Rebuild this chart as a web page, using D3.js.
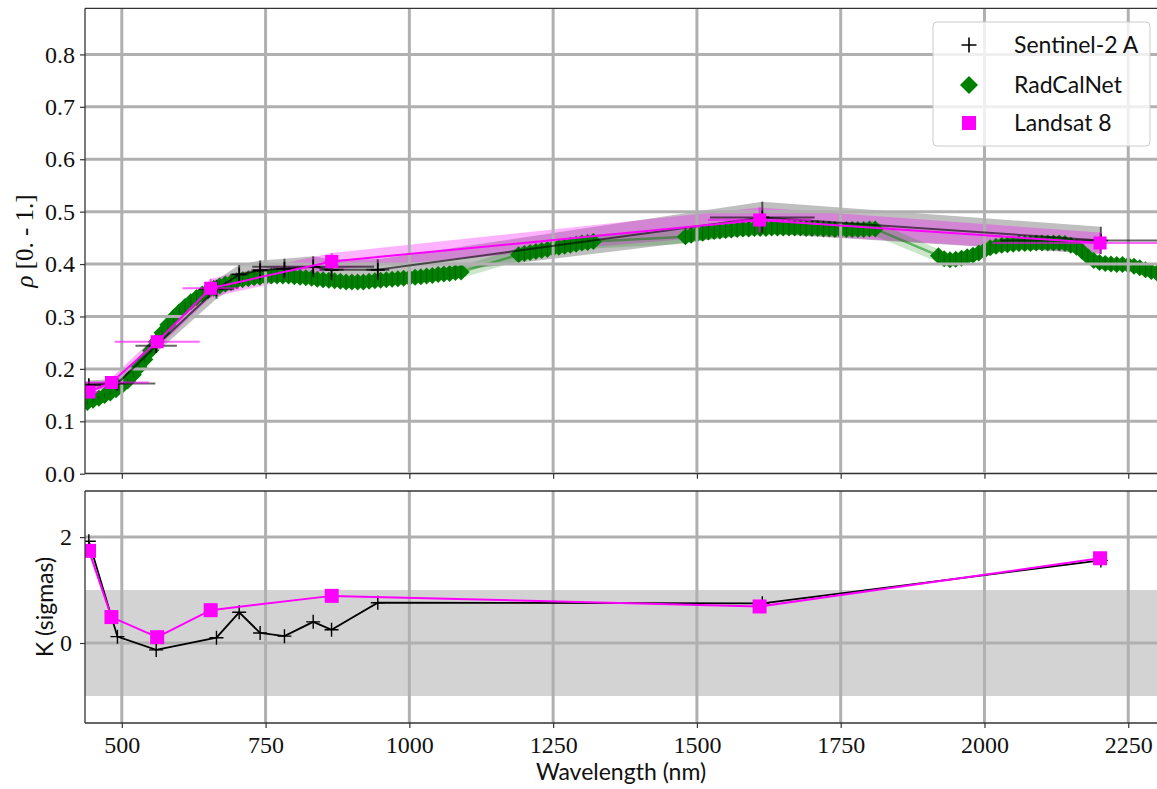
<!DOCTYPE html>
<html>
<head>
<meta charset="utf-8">
<script src="https://cdn.jsdelivr.net/npm/d3@7"></script>
<style>
  body { margin: 0; background: #fff; }
  text { fill: #111; }
</style>
</head>
<body>
<svg id="chart" width="1157" height="789"></svg>
<script>
// --- data ---

const xTicks = [500, 750, 1000, 1250, 1500, 1750, 2000, 2250];
const rhoTicks = [0, 0.1, 0.2, 0.3, 0.4, 0.5, 0.6, 0.7, 0.8];
const kTicks = [0, 2];

// Sentinel-2 A bands
const s2Wl = [442.7, 492.4, 559.8, 664.6, 704.1, 740.5, 782.8, 832.8, 864.7, 945.1, 1613.7, 2202.4];
const s2Rho = [0.169, 0.172, 0.244, 0.352, 0.380, 0.388, 0.391, 0.395, 0.389, 0.389, 0.489, 0.445];
const s2RhoErr = [0.009, 0.009, 0.013, 0.018, 0.018, 0.019, 0.019, 0.020, 0.020, 0.020, 0.030, 0.026];
const s2HalfWidth = [21, 66, 36, 31, 15, 15, 20, 106, 21, 20, 91, 175];
const s2K = [1.92, 0.12, -0.13, 0.10, 0.58, 0.19, 0.13, 0.40, 0.25, 0.76, 0.75, 1.56];

// Landsat 8 bands
const l8Wl = [443, 482, 561.5, 654.5, 865, 1609, 2201];
const l8Rho = [0.156, 0.174, 0.252, 0.354, 0.405, 0.484, 0.440];
const l8RhoErr = [0.008, 0.009, 0.013, 0.018, 0.016, 0.024, 0.020];
const l8HalfWidth = [16, 65, 74, 49, 14, 90, 187];
const l8K = [1.74, 0.49, 0.11, 0.62, 0.89, 0.69, 1.60];

// RadCalNet spectrum (10 nm sampling, water bands missing)
const rcnWl = [
  440, 450, 460, 470, 480, 490, 500, 510, 520, 530, 540, 550, 560, 570, 580, 590, 600, 610, 620, 630,
  640, 650, 660, 670, 680, 690, 700, 710, 720, 730, 740, 750, 760, 770, 780, 790, 800, 810, 820, 830,
  840, 850, 860, 870, 880, 890, 900, 910, 920, 930, 940, 950, 960, 970, 980, 990, 1000, 1010, 1020, 1030,
  1040, 1050, 1060, 1070, 1080, 1090,
  1190, 1200, 1210, 1220, 1230, 1240, 1250, 1260, 1270, 1280, 1290, 1300, 1310, 1320,
  1480, 1490, 1500, 1510, 1520, 1530, 1540, 1550, 1560, 1570, 1580, 1590, 1600, 1610, 1620, 1630,
  1640, 1650, 1660, 1670, 1680, 1690, 1700, 1710, 1720, 1730, 1740, 1750, 1760, 1770, 1780, 1790,
  1800, 1810,
  1920, 1930, 1940, 1950, 1960, 1970, 1980, 1990, 2000, 2010, 2020, 2030, 2040, 2050, 2060, 2070,
  2080, 2090, 2100, 2110, 2120, 2130, 2140, 2150, 2160, 2170, 2180, 2190, 2200, 2210, 2220, 2230,
  2240, 2250, 2260, 2270, 2280, 2290, 2300, 2310
];
const rcnRho = [
  0.136, 0.140, 0.144, 0.149, 0.154, 0.160, 0.168, 0.177, 0.189, 0.203, 0.218, 0.235, 0.252, 0.269, 0.284, 0.298, 0.309, 0.319, 0.328, 0.336,
  0.343, 0.349, 0.354, 0.358, 0.362, 0.365, 0.368, 0.370, 0.372, 0.374, 0.375, 0.376, 0.377, 0.377, 0.377, 0.377, 0.376, 0.375, 0.374, 0.373,
  0.371, 0.370, 0.369, 0.368, 0.367, 0.366, 0.366, 0.366, 0.366, 0.367, 0.368, 0.369, 0.370, 0.371, 0.372, 0.373, 0.374, 0.375, 0.376, 0.377,
  0.378, 0.380, 0.381, 0.382, 0.384, 0.385,
  0.418, 0.420, 0.422, 0.424, 0.426, 0.428, 0.430, 0.432, 0.434, 0.436, 0.438, 0.440, 0.441, 0.443,
  0.452, 0.455, 0.457, 0.459, 0.461, 0.462, 0.463, 0.464, 0.465, 0.466, 0.467, 0.467, 0.468, 0.468, 0.468, 0.469,
  0.469, 0.469, 0.469, 0.469, 0.469, 0.468, 0.468, 0.468, 0.467, 0.467, 0.466, 0.466, 0.466, 0.466, 0.466, 0.466,
  0.467, 0.467,
  0.416, 0.410, 0.408, 0.409, 0.411, 0.414, 0.417, 0.421, 0.426, 0.431, 0.434, 0.436, 0.437, 0.438, 0.439, 0.439,
  0.439, 0.440, 0.440, 0.440, 0.440, 0.440, 0.439, 0.436, 0.432, 0.424, 0.414, 0.407, 0.403, 0.401, 0.400, 0.399,
  0.399, 0.398, 0.396, 0.393, 0.389, 0.386, 0.383, 0.380
];
const rcnRelUnc = 0.03;

const legendLabels = ["Sentinel-2 A", "RadCalNet", "Landsat 8"];

// --- setup ---

const serif = "'Liberation Serif', 'DejaVu Serif', serif";
const sans = "Lato, 'Open Sans', sans-serif";
const gridColor = "#b0b0b0";
const spineColor = "#333";

const svg = d3.select("#chart");
const left = 85, right = 1157;
const x = d3.scaleLinear().domain([436, 2300]).range([left, right]);
const yTop = d3.scaleLinear().domain([0, 0.888]).range([473.7, 8.3]);
const yBot = d3.scaleLinear().domain([-1.51, 2.87]).range([723, 491]);

const s2 = s2Wl.map((w, i) => ({ w, r: s2Rho[i], e: s2RhoErr[i], hw: s2HalfWidth[i], k: s2K[i] }));
const l8 = l8Wl.map((w, i) => ({ w, r: l8Rho[i], e: l8RhoErr[i], hw: l8HalfWidth[i], k: l8K[i] }));
const rcn = rcnWl.map((w, i) => ({ w, r: rcnRho[i], e: rcnRho[i] * rcnRelUnc }));

const defs = svg.append("defs");
defs.append("clipPath").attr("id", "clipTop").append("rect")
  .attr("x", left).attr("y", yTop.range()[1]).attr("width", right - left).attr("height", yTop.range()[0] - yTop.range()[1]);
defs.append("clipPath").attr("id", "clipBot").append("rect")
  .attr("x", left).attr("y", yBot.range()[1]).attr("width", right - left).attr("height", yBot.range()[0] - yBot.range()[1]);

const diamond = s => `M0,${-s}L${s},0L0,${s}L${-s},0Z`;
const plus = s => `M${-s},0H${s}M0,${-s}V${s}`;
const square = s => `M${-s},${-s}H${s}V${s}H${-s}Z`;

// --- top panel ---

const topG = svg.append("g").attr("clip-path", "url(#clipTop)");
const band = d3.area().x(d => x(d.w)).y0(d => yTop(d.r - d.e)).y1(d => yTop(d.r + d.e));

topG.append("path").datum(s2).attr("d", band).attr("fill", "#808080").attr("fill-opacity", 0.5);
topG.append("path").datum(l8).attr("d", band).attr("fill", "magenta").attr("fill-opacity", 0.3);
topG.append("path").datum(rcn).attr("d", band).attr("fill", "green").attr("fill-opacity", 0.2);
topG.append("path").datum(rcn)
  .attr("d", d3.line().x(d => x(d.w)).y(d => yTop(d.r)))
  .attr("fill", "none").attr("stroke", "green").attr("stroke-opacity", 0.5).attr("stroke-width", 2.5);

topG.append("g").selectAll("path").data(rcn).enter().append("path")
  .attr("transform", d => `translate(${x(d.w)},${yTop(d.r)})`)
  .attr("d", diamond(8.5)).attr("fill", "green");
topG.append("g").selectAll("line").data(rcn).enter().append("line")
  .attr("x1", d => x(d.w)).attr("x2", d => x(d.w))
  .attr("y1", d => yTop(d.r - d.e)).attr("y2", d => yTop(d.r + d.e))
  .attr("stroke", "#004400").attr("stroke-opacity", 0.55).attr("stroke-width", 1);

// grid (above the shaded bands, below the satellite lines)
const gridTop = topG.append("g");
gridTop.selectAll(".gx").data(xTicks).enter().append("line")
  .attr("x1", d => x(d)).attr("x2", d => x(d)).attr("y1", yTop.range()[0]).attr("y2", yTop.range()[1])
  .attr("stroke", gridColor).attr("stroke-width", 3);
gridTop.selectAll(".gy").data(rhoTicks).enter().append("line")
  .attr("y1", d => yTop(d)).attr("y2", d => yTop(d)).attr("x1", left).attr("x2", right)
  .attr("stroke", gridColor).attr("stroke-width", 3);

function drawSeries(g, data, colour, lineOpacity, errOpacity, marker, markerStroke) {
  g.append("path").datum(data)
    .attr("d", d3.line().x(d => x(d.w)).y(d => yTop(d.r)))
    .attr("fill", "none").attr("stroke", colour).attr("stroke-opacity", lineOpacity).attr("stroke-width", 2);
  const eb = g.append("g").attr("stroke", colour).attr("stroke-opacity", errOpacity).attr("stroke-width", 2);
  eb.selectAll(".h").data(data).enter().append("line")
    .attr("x1", d => x(d.w - d.hw)).attr("x2", d => x(d.w + d.hw))
    .attr("y1", d => yTop(d.r)).attr("y2", d => yTop(d.r));
  eb.selectAll(".v").data(data).enter().append("line")
    .attr("x1", d => x(d.w)).attr("x2", d => x(d.w))
    .attr("y1", d => yTop(d.r - d.e)).attr("y2", d => yTop(d.r + d.e));
  const m = g.selectAll(".m").data(data).enter().append("path")
    .attr("transform", d => `translate(${x(d.w)},${yTop(d.r)})`).attr("d", marker);
  if (markerStroke) m.attr("fill", "none").attr("stroke", colour).attr("stroke-width", 1.6);
  else m.attr("fill", colour);
}
drawSeries(topG.append("g"), s2, "#000", 0.6, 0.6, plus(7), true);
drawSeries(topG.append("g"), l8, "magenta", 1, 0.6, square(6.5), false);

// --- bottom panel ---

const botG = svg.append("g").attr("clip-path", "url(#clipBot)");
botG.append("rect").attr("x", left).attr("width", right - left)
  .attr("y", yBot(1)).attr("height", yBot(-1) - yBot(1)).attr("fill", "#d3d3d3");
botG.selectAll(".gx").data(xTicks).enter().append("line")
  .attr("x1", d => x(d)).attr("x2", d => x(d)).attr("y1", yBot.range()[0]).attr("y2", yBot.range()[1])
  .attr("stroke", gridColor).attr("stroke-width", 3);
botG.selectAll(".gy").data(kTicks).enter().append("line")
  .attr("y1", d => yBot(d)).attr("y2", d => yBot(d)).attr("x1", left).attr("x2", right)
  .attr("stroke", gridColor).attr("stroke-width", 3);

const kLine = d3.line().x(d => x(d.w)).y(d => yBot(d.k));
botG.append("path").datum(s2).attr("d", kLine).attr("fill", "none").attr("stroke", "#000").attr("stroke-width", 1.8);
botG.selectAll(".s2k").data(s2).enter().append("path")
  .attr("transform", d => `translate(${x(d.w)},${yBot(d.k)})`).attr("d", plus(7))
  .attr("stroke", "#000").attr("stroke-width", 1.4).attr("fill", "none");
botG.append("path").datum(l8).attr("d", kLine).attr("fill", "none").attr("stroke", "magenta").attr("stroke-width", 2);
botG.selectAll(".l8k").data(l8).enter().append("path")
  .attr("transform", d => `translate(${x(d.w)},${yBot(d.k)})`).attr("d", square(7))
  .attr("fill", "magenta");

// --- axes, spines, labels ---

function spines(y) {
  const [y0, y1] = y.range();
  const g = svg.append("g").attr("stroke", spineColor).attr("stroke-width", 1.3);
  g.append("line").attr("x1", left).attr("x2", left).attr("y1", y0).attr("y2", y1);
  g.append("line").attr("x1", left).attr("x2", right).attr("y1", y0).attr("y2", y0);
  g.append("line").attr("x1", left).attr("x2", right).attr("y1", y1).attr("y2", y1);
}
spines(yTop);
spines(yBot);

function styleAxis(g) {
  g.select(".domain").remove();
  g.selectAll(".tick line").attr("stroke", spineColor).attr("stroke-width", 1.2);
  g.selectAll(".tick text").attr("font-family", serif).attr("font-size", 24).attr("fill", "#222");
}

svg.append("g").attr("transform", `translate(${left},0)`)
  .call(d3.axisLeft(yTop).tickValues(rhoTicks).tickFormat(d3.format(".1f")).tickSize(5).tickPadding(5))
  .call(styleAxis);
svg.append("g").attr("transform", `translate(${left},0)`)
  .call(d3.axisLeft(yBot).tickValues(kTicks).tickFormat(d3.format("d")).tickSize(5).tickPadding(8))
  .call(styleAxis);
svg.append("g").attr("transform", `translate(0,${yTop.range()[0]})`)
  .call(d3.axisBottom(x).tickValues(xTicks).tickFormat("").tickSize(5))
  .call(styleAxis);
svg.append("g").attr("transform", `translate(0,${yBot.range()[0]})`)
  .call(d3.axisBottom(x).tickValues(xTicks).tickFormat(d3.format("d")).tickSize(5).tickPadding(8))
  .call(styleAxis);

svg.append("text").attr("x", (left + right) / 2).attr("y", 780).attr("text-anchor", "middle")
  .attr("font-family", sans).attr("font-size", 23).text("Wavelength (nm)");

const yl1 = svg.append("text").attr("transform", `translate(33,${(yTop.range()[0] + yTop.range()[1]) / 2}) rotate(-90)`)
  .attr("text-anchor", "middle").attr("font-family", serif).attr("font-size", 25);
yl1.append("tspan").attr("font-style", "italic").text("ρ");
yl1.append("tspan").text(" [0. - 1.]");

svg.append("text").attr("transform", `translate(53,${(yBot.range()[0] + yBot.range()[1]) / 2}) rotate(-90)`)
  .attr("text-anchor", "middle").attr("font-family", sans).attr("font-size", 23).text("K (sigmas)");

// --- legend ---

const lg = svg.append("g");
lg.append("rect").attr("x", 933).attr("y", 22).attr("width", 217).attr("height", 124).attr("rx", 4)
  .attr("fill", "#fff").attr("fill-opacity", 0.8).attr("stroke", "#cccccc").attr("stroke-width", 1);
const legendRows = [
  { y: 45, d: plus(7.5), fill: "none", stroke: "#000" },
  { y: 85, d: diamond(9), fill: "green", stroke: "none" },
  { y: 123, d: square(7), fill: "magenta", stroke: "none" }
];
legendRows.forEach((r, i) => {
  lg.append("path").attr("transform", `translate(969,${r.y})`).attr("d", r.d)
    .attr("fill", r.fill).attr("stroke", r.stroke).attr("stroke-width", 1.6);
  lg.append("text").attr("x", 1014).attr("y", r.y + 8).attr("font-family", sans).attr("font-size", 23)
    .text(legendLabels[i]);
});
</script>
</body>
</html>
